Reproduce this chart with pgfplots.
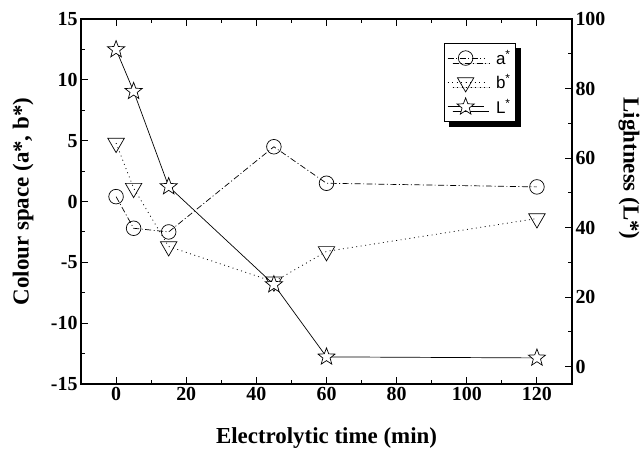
\documentclass[border=0pt]{standalone}
\usepackage{fontspec}
\setmainfont{Liberation Serif}
\newfontfamily\legfont{Liberation Sans}
\usepackage{pgfplots}
\pgfplotsset{compat=1.18}
\usetikzlibrary{shadows}

\pgfdeclareplotmark{ostar}{%
  \pgfpathmoveto{\pgfpointpolar{90}{\pgfplotmarksize}}%
  \pgfpathlineto{\pgfpointpolar{126}{0.42\pgfplotmarksize}}%
  \pgfpathlineto{\pgfpointpolar{162}{\pgfplotmarksize}}%
  \pgfpathlineto{\pgfpointpolar{198}{0.42\pgfplotmarksize}}%
  \pgfpathlineto{\pgfpointpolar{234}{\pgfplotmarksize}}%
  \pgfpathlineto{\pgfpointpolar{270}{0.42\pgfplotmarksize}}%
  \pgfpathlineto{\pgfpointpolar{306}{\pgfplotmarksize}}%
  \pgfpathlineto{\pgfpointpolar{342}{0.42\pgfplotmarksize}}%
  \pgfpathlineto{\pgfpointpolar{18}{\pgfplotmarksize}}%
  \pgfpathlineto{\pgfpointpolar{54}{0.42\pgfplotmarksize}}%
  \pgfpathclose
  \pgfusepathqfillstroke
}

\pgfplotstableread{
t a b
0 0.4 4.8
5 -2.2 1.1
15 -2.5 -3.7
45 4.5 -6.6
60 1.5 -4.1
120 1.2 -1.4
}\abdata
\pgfplotstableread{
t L
0 91.2
5 79.2
15 51.8
45 23.6
60 2.8
120 2.5
}\Ldata

\pgfplotsset{
  astyle/.style={black, line width=0.7pt, dash pattern=on 6pt off 2.5pt on 1pt off 2.5pt, mark=o, mark size=7.3bp, mark options={solid, fill=white, line width=0.7pt}},
  bstyle/.style={black, line width=0.8pt, dash pattern=on 0.9pt off 3.6pt, mark=triangle, mark size=9.5bp, mark options={solid, rotate=180, fill=white, line width=0.7pt}},
  Lstyle/.style={black, line width=0.7pt, solid, mark=ostar, mark size=9bp, mark options={solid, fill=white, line width=0.7pt, line join=miter}},
  common/.style={
    at={(81bp,65bp)}, anchor=south west,
    scale only axis, width=491bp, height=365bp,
    xmin=-10, xmax=130,
    tick align=inside,
    major tick length=7bp, minor tick length=4bp,
    every tick/.style={black, line width=1pt},
    axis line style={line width=1.2pt},
    tick label style={font=\fontsize{20}{20}\selectfont\bfseries},
    /pgf/number format/assume math mode=true,
    label style={font=\fontsize{23}{24}\selectfont\bfseries},
  },
}

\begin{document}
\begin{tikzpicture}
\path[use as bounding box] (0,0) rectangle (644bp,449bp);
\begin{axis}[common,
  ymin=-15, ymax=15,
  xtick={0,20,...,120}, minor x tick num=1,
  ytick={-15,-10,...,15}, minor y tick num=1,
  xtick pos=both, ytick pos=left,
  xticklabel pos=bottom,
  xlabel={Electrolytic time (min)},
  ylabel={Colour space (a*, b*)},
  xlabel style={at={(axis description cs:0.5,-0.148)}, anchor=center},
  ylabel style={at={(axis description cs:-0.118,0.5)}, anchor=center, rotate=0},
]
\addplot[astyle] table[x=t, y=a] {\abdata};
\addplot[bstyle] table[x=t, y=b] {\abdata};
\end{axis}
\begin{axis}[common,
  ymin=-5, ymax=100,
  axis x line=none,
  axis y line*=right,
  ytick={0,20,...,100}, minor y tick num=1,
  ylabel={Lightness (L*)},
  ylabel style={at={(axis description cs:1.116,0.59)}, anchor=center, rotate=180},
  legend cell align=left,
  legend style={at={(0.739,0.935)}, anchor=north west,
    draw=black, line width=0.8pt, fill=white,
    font=\legfont\fontsize{17}{19}\selectfont,
    inner xsep=3bp, inner ysep=5bp, row sep=4.5bp,
    drop shadow={shadow xshift=5bp, shadow yshift=-5bp, opacity=1, fill=black}},
  legend image code/.code={\draw[mark repeat=2, mark phase=2, #1] plot coordinates {(0bp,0bp) (18bp,0bp) (36bp,0bp)}; \path (46bp,0bp);},
]
\addlegendimage{astyle}
\addlegendentry{a\textsuperscript{*}}
\addlegendimage{bstyle}
\addlegendentry{b\textsuperscript{*}}
\addplot[Lstyle] table[x=t, y=L] {\Ldata};
\addlegendentry{L\textsuperscript{*}}
\end{axis}
\end{tikzpicture}
\end{document}
